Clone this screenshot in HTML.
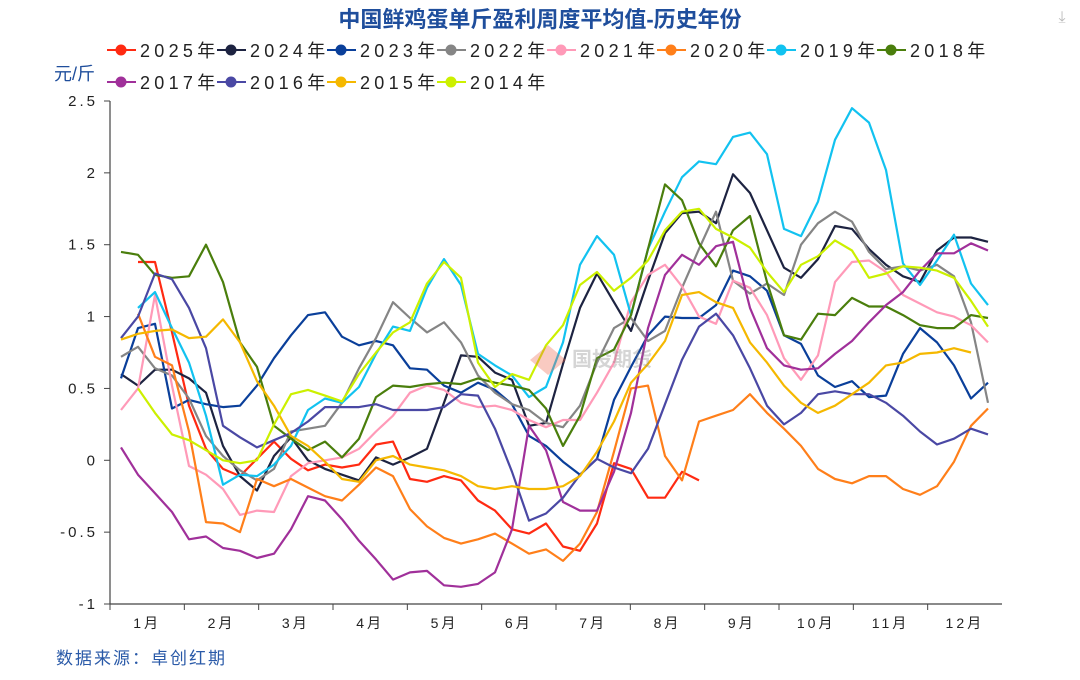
<!DOCTYPE html>
<html><head><meta charset="utf-8">
<style>
body{margin:0;background:#fff;}
svg text{font-family:"Liberation Sans","Noto Sans CJK SC",sans-serif;}
</style></head>
<body>
<svg id="chart" width="1080" height="675" viewBox="0 0 1080 675" xmlns="http://www.w3.org/2000/svg">
<text x="540" y="27" text-anchor="middle" font-size="22" font-weight="bold" fill="#1f4e9c" style="font-family:'Liberation Sans','Noto Sans CJK SC',sans-serif">中国鲜鸡蛋单斤盈利周度平均值-历史年份</text>
<text x="1062" y="22" font-size="16" fill="#bbb" text-anchor="middle">⤓</text>
<text x="54" y="80" font-size="18" fill="#1f4e9c">元/斤</text>
<text x="56" y="664" font-size="17" fill="#2a5aa8" letter-spacing="2">数据来源：卓创红期</text>
<g id="legend"></g>
<g id="axes"></g>
<g id="plot"></g>
<g opacity="0.35">
<polygon points="548,345 566,360 548,375 530,360" fill="#f06a50"/>
<text x="572" y="366" font-size="20" fill="#888" font-weight="bold">国投期货</text>
</g>
</svg>
<script>
const years = ["2025年","2024年","2023年","2022年","2021年","2020年","2019年","2018年","2017年","2016年","2015年","2014年"];
const colors = ["#ff2a12","#1d2341","#0a3f9a","#858585","#ff9ab8","#ff7f1a","#12c2f0","#4a7e0c","#a0309a","#4a48a4","#f5b800","#ccf000"];
const monthLabels = ["1月","2月","3月","4月","5月","6月","7月","8月","9月","10月","11月","12月"];
const yTicks = [-1,-0.5,0,0.5,1,1.5,2,2.5];
const yTickLabels = ["-1","-0.5","0","0.5","1","1.5","2","2.5"];
const N=null;
const s2025 = [N,1.38,1.38,0.89,0.38,0.08,-0.06,-0.11,0.01,0.13,0.01,-0.07,-0.03,-0.05,-0.03,0.11,0.13,-0.13,-0.15,-0.11,-0.14,-0.28,-0.35,-0.48,-0.51,-0.44,-0.60,-0.63,-0.44,-0.02,-0.06,-0.26,-0.26,-0.08,-0.14];
const s2024 = [0.60,0.52,0.63,0.63,0.57,0.47,0.10,-0.11,-0.21,0.03,0.16,0.00,-0.06,-0.10,-0.14,0.02,-0.03,0.02,0.08,0.40,0.73,0.72,0.61,0.56,0.24,0.26,0.67,1.06,1.30,1.10,0.90,1.25,1.58,1.72,1.73,1.65,1.99,1.86,1.60,1.34,1.27,1.40,1.63,1.61,1.47,1.36,1.28,1.24,1.46,1.55,1.55,1.52];
const s2023 = [0.57,0.92,0.95,0.36,0.42,0.39,0.37,0.38,0.52,0.71,0.87,1.01,1.03,0.86,0.80,0.83,0.80,0.64,0.63,0.52,0.47,0.54,0.49,0.39,0.17,0.10,-0.01,-0.10,0.01,0.42,0.65,0.87,1.00,0.99,0.99,1.08,1.32,1.28,1.18,0.87,0.81,0.59,0.51,0.55,0.44,0.45,0.74,0.92,0.82,0.66,0.43,0.54];
const s2022 = [0.72,0.79,0.64,0.59,0.43,0.17,0.03,-0.07,-0.14,-0.06,0.20,0.22,0.24,0.40,0.64,0.85,1.10,0.99,0.89,0.96,0.82,0.59,0.47,0.39,0.35,0.26,0.23,0.38,0.68,0.92,0.99,0.83,0.90,1.20,1.47,1.73,1.25,1.16,1.23,1.15,1.50,1.65,1.73,1.66,1.45,1.33,1.35,1.32,1.36,1.28,0.96,0.40];
const s2021 = [0.35,0.50,1.15,0.52,-0.04,-0.10,-0.20,-0.38,-0.35,-0.36,-0.11,-0.02,0.00,0.02,0.08,0.20,0.31,0.47,0.52,0.49,0.40,0.37,0.38,0.35,0.28,0.23,0.28,0.28,0.47,0.68,1.10,1.29,1.36,1.21,1.00,0.95,1.25,1.20,1.01,0.71,0.56,0.73,1.24,1.38,1.39,1.31,1.15,1.09,1.03,1.00,0.94,0.82];
const s2020 = [N,1.02,0.72,0.66,0.20,-0.43,-0.44,-0.50,-0.13,-0.18,-0.13,-0.19,-0.25,-0.28,-0.17,-0.05,-0.11,-0.34,-0.46,-0.54,-0.58,-0.55,-0.51,-0.58,-0.65,-0.62,-0.70,-0.58,-0.36,0.06,0.50,0.52,0.03,-0.14,0.27,0.31,0.35,0.46,0.33,0.22,0.10,-0.06,-0.13,-0.16,-0.11,-0.11,-0.20,-0.24,-0.18,-0.01,0.24,0.36];
const s2019 = [N,1.06,1.17,0.92,0.68,0.31,-0.17,-0.10,-0.11,-0.03,0.10,0.35,0.43,0.40,0.51,0.74,0.93,0.90,1.20,1.40,1.22,0.74,0.66,0.59,0.44,0.51,0.82,1.36,1.56,1.43,1.01,1.47,1.73,1.97,2.08,2.06,2.25,2.28,2.13,1.61,1.56,1.80,2.23,2.45,2.35,2.02,1.37,1.22,1.39,1.57,1.23,1.08];
const s2018 = [1.45,1.43,1.29,1.27,1.28,1.50,1.24,0.82,0.65,0.24,0.15,0.07,0.13,0.02,0.15,0.44,0.52,0.51,0.53,0.54,0.53,0.57,0.54,0.52,0.49,0.36,0.10,0.31,0.71,0.77,1.01,1.47,1.92,1.81,1.51,1.35,1.60,1.70,1.24,0.87,0.84,1.02,1.01,1.13,1.07,1.07,1.01,0.94,0.92,0.92,1.01,0.99];
const s2017 = [0.09,-0.10,-0.23,-0.36,-0.55,-0.53,-0.61,-0.63,-0.68,-0.65,-0.48,-0.25,-0.28,-0.41,-0.56,-0.69,-0.83,-0.78,-0.77,-0.87,-0.88,-0.86,-0.78,-0.48,0.24,0.07,-0.29,-0.35,-0.35,-0.08,0.33,0.92,1.29,1.43,1.36,1.49,1.52,1.06,0.78,0.66,0.63,0.64,0.74,0.83,0.96,1.08,1.17,1.32,1.44,1.44,1.51,1.46];
const s2016 = [0.85,1.00,1.30,1.26,1.06,0.78,0.24,0.16,0.09,0.14,0.19,0.27,0.37,0.37,0.37,0.39,0.35,0.35,0.35,0.37,0.46,0.45,0.22,-0.08,-0.42,-0.37,-0.26,-0.10,0.01,-0.05,-0.09,0.08,0.39,0.70,0.93,1.02,0.87,0.64,0.38,0.25,0.33,0.46,0.48,0.46,0.46,0.40,0.31,0.20,0.11,0.15,0.22,0.18];
const s2015 = [0.84,0.88,0.90,0.91,0.85,0.86,0.98,0.82,0.55,0.38,0.17,0.10,-0.01,-0.13,-0.15,0.00,0.03,-0.03,-0.05,-0.07,-0.11,-0.18,-0.20,-0.18,-0.20,-0.20,-0.18,-0.11,0.06,0.27,0.54,0.67,0.83,1.15,1.17,1.10,1.06,0.82,0.68,0.52,0.40,0.33,0.38,0.46,0.54,0.66,0.68,0.74,0.75,0.78,0.75];
const s2014 = [N,0.50,0.33,0.18,0.14,0.07,0.00,-0.02,0.00,0.25,0.46,0.49,0.45,0.41,0.60,0.75,0.89,0.96,1.23,1.38,1.27,0.68,0.51,0.60,0.56,0.80,0.94,1.22,1.31,1.18,1.27,1.39,1.60,1.73,1.75,1.61,1.55,1.48,1.31,1.17,1.36,1.42,1.53,1.46,1.27,1.30,1.35,1.34,1.32,1.27,1.11,0.93];
const series = [s2025,s2024,s2023,s2022,s2021,s2020,s2019,s2018,s2017,s2016,s2015,s2014];

const NS="http://www.w3.org/2000/svg";
const X0=110, X1=1002, Y0=604, Y1=101, YMIN=-1, YMAX=2.5;
const xW = i => 121 + i*17.0;
const yV = v => Y0 - (v-YMIN)/(YMAX-YMIN)*(Y0-Y1);
function mk(tag, attrs, parent){const e=document.createElementNS(NS,tag);for(const k in attrs)e.setAttribute(k,attrs[k]);parent.appendChild(e);return e;}
const axes=document.getElementById('axes'), plot=document.getElementById('plot'), legend=document.getElementById('legend');

let a=mk('line',{x1:X0,y1:Y1,x2:X0,y2:Y0,stroke:'#444','stroke-width':1.2},axes);


a=mk('line',{x1:X0,y1:Y0,x2:X1,y2:Y0,stroke:'#444','stroke-width':1.2},axes);


yTicks.forEach((v,k)=>{
  const t=mk('line',{x1:X0-6,y1:yV(v),x2:X0,y2:yV(v),stroke:'#444','stroke-width':1},axes);
  
  
  const l=mk('text',{x:X0-12,y:yV(v)+5,'text-anchor':'end','font-size':15,fill:'#222','letter-spacing':3},axes);
  
  
  l.textContent=yTickLabels[k];
});
const mW=(X1-X0)/12;
monthLabels.forEach((m,k)=>{
  const t=mk('line',{x1:X0+k*mW,y1:Y0,x2:X0+k*mW,y2:Y0+6,stroke:'#444','stroke-width':1},axes);
  
  
  const l=mk('text',{x:X0+(k+0.5)*mW,y:628,'text-anchor':'middle','font-size':14,fill:'#222','letter-spacing':3},axes);
  
  
  l.textContent=m;
});
series.forEach((s,k)=>{
  let d='',pen=false;
  s.forEach((v,i)=>{ if(v===null){pen=false;return;} d+=(pen?'L':'M')+xW(i).toFixed(1)+','+yV(v).toFixed(1); pen=true; });
  const p=mk('path',{d:d,fill:'none',stroke:colors[k],'stroke-width':2.2,'stroke-linejoin':'round'},plot);
  
  
});
years.forEach((y,k)=>{
  const row=k<8?0:1, col=k<8?k:k-8;
  const lx=107+col*110, ly=row?82:50;
  const g=mk('g',{},legend);
  
  
  mk('line',{x1:lx,y1:ly,x2:lx+29,y2:ly,stroke:colors[k],'stroke-width':2},g);
  mk('circle',{cx:lx+14,cy:ly,r:5.5,fill:colors[k]},g);
  const t=mk('text',{x:lx+33,y:ly+7,'font-size':18,fill:'#222','letter-spacing':4.3},g);
  t.textContent=y;
});
</script>
</body></html>
